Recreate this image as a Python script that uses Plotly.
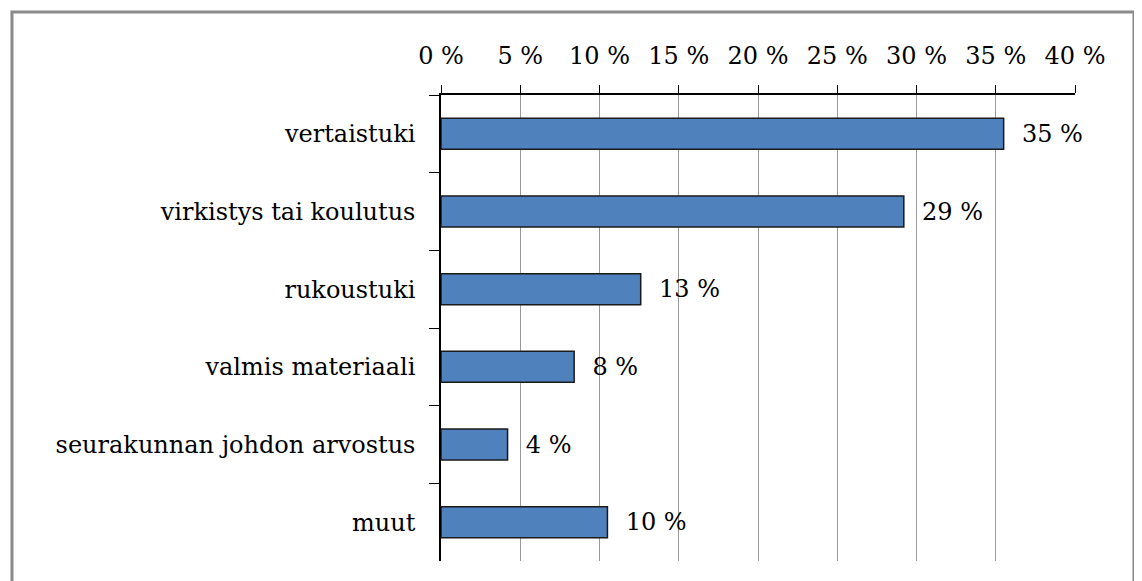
import plotly.graph_objects as go

# data
categories = ['vertaistuki', 'virkistys tai koulutus', 'rukoustuki',
	'valmis materiaali', 'seurakunnan johdon arvostus', 'muut']
shares = [35.5, 29.2, 12.6, 8.4, 4.2, 10.5]
share_labels = ['35 %', '29 %', '13 %', '8 %', '4 %', '10 %']
tick_values = [0, 5, 10, 15, 20, 25, 30, 35, 40]
tick_labels = ['0 %', '5 %', '10 %', '15 %', '20 %', '25 %', '30 %', '35 %', '40 %']

font_family = 'DejaVu Serif'

fig = go.Figure([
	go.Bar(
		x=shares,
		y=categories,
		orientation='h',
		text=['  ' + t for t in share_labels],
		textposition='outside',
		cliponaxis=False,
		textfont=dict(family=font_family, size=24, color='black'),
		marker=dict(color='#4F81BD', line=dict(color='#1a1a1a', width=1.5)),
		width=0.4
	)
])

# the page body adds an 8px offset, so the figure is shrunk to fit the window
fig.update_layout(
	width=1134,
	height=573,
	margin=dict(l=433, r=67, t=87, b=20),
	paper_bgcolor='white',
	plot_bgcolor='white',
	showlegend=False,
	font=dict(family=font_family, size=24, color='black'),
	xaxis=dict(
		side='top',
		range=[0, 40],
		tickvals=tick_values,
		ticktext=tick_labels,
		ticks='outside',
		ticklen=8,
		tickcolor='black',
		ticklabelstandoff=12,
		showline=True,
		linecolor='black',
		linewidth=1.5,
		showgrid=True,
		gridcolor='#9a9a9a',
		gridwidth=1,
		zeroline=False,
		fixedrange=True
	),
	yaxis=dict(
		categoryorder='array',
		categoryarray=categories,
		autorange='reversed',
		ticks='outside',
		tickson='boundaries',
		ticklen=10,
		tickcolor='black',
		ticklabelstandoff=19,
		showline=True,
		linecolor='black',
		linewidth=1.5,
		showgrid=False,
		zeroline=False
	),
	shapes=[
		dict(type='rect', xref='paper', yref='paper',
			x0=-0.6767, x1=1.093, y0=-0.1, y1=1.178,
			line=dict(color='#8a8a8a', width=3))
	]
)

fig.write_html('out.html')
